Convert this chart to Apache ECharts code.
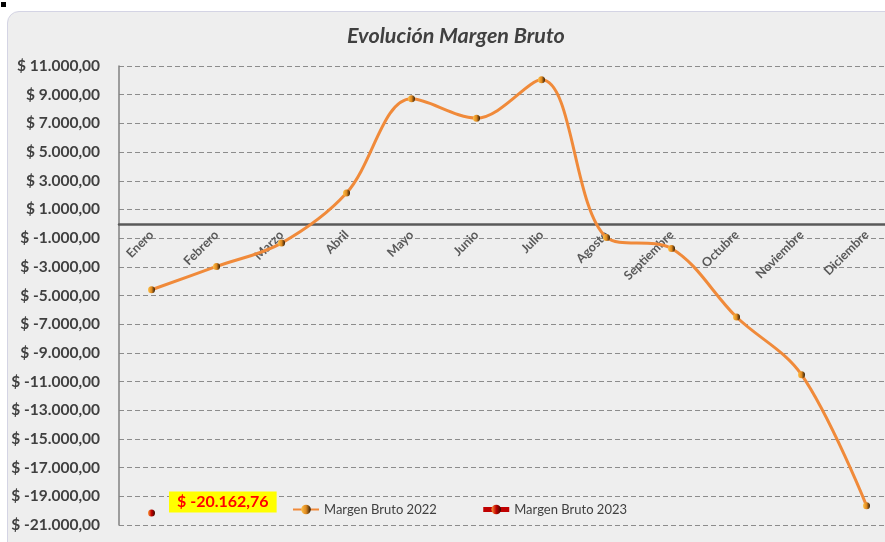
<!DOCTYPE html>
<html>
<head>
<meta charset="utf-8">
<script src="https://cdn.jsdelivr.net/npm/echarts@6/dist/echarts.min.js"></script>
<style>
  html, body { margin: 0; padding: 0; background: #ffffff; overflow: hidden; }
  .frame {
    position: absolute; left: 7px; top: 11px; width: 920px; height: 560px;
    background: #eeeeee; border: 1px solid #d4d4e4; border-radius: 12px;
  }
  .dot { position: absolute; left: 1px; top: 2px; width: 5px; height: 5px; background: #000; }
  #chart { position: absolute; left: 0; top: 0; width: 885px; height: 542px; }
</style>
</head>
<body>
<div class="dot"></div>
<div class="frame"></div>
<div id="chart"></div>
<script>
  // datos
  const meses = ['Enero', 'Febrero', 'Marzo', 'Abril', 'Mayo', 'Junio', 'Julio',
                 'Agosto', 'Septiembre', 'Octubre', 'Noviembre', 'Diciembre'];
  const margen2022 = [-4600, -2975, -1345, 2140, 8710, 7365, 10035,
                      -955, -1720, -6500, -10520, -19650];
  const margen2023 = [-20162.76, null, null, null, null, null, null,
                      null, null, null, null, null];
  const yMin = -21000, yMax = 11000, yStep = 2000;

  function pesos(v) {
    const s = Math.abs(v).toFixed(2).split('.');
    const ent = s[0].replace(/\B(?=(\d{3})+(?!\d))/g, '.');
    return '$ ' + (v < 0 ? '-' : '') + ent + ',' + s[1];
  }

  const fuente = 'Lato, "Open Sans", sans-serif';
  const marcador = {
    type: 'linear', x: 0, y: 0, x2: 1, y2: 0,
    colorStops: [{ offset: 0, color: '#ffc24a' }, { offset: 0.5, color: '#e08a20' }, { offset: 1, color: '#2a1a08' }]
  };
  const marcadorRojo = {
    type: 'linear', x: 0, y: 0, x2: 1, y2: 0,
    colorStops: [{ offset: 0, color: '#ff9a3a' }, { offset: 0.5, color: '#c00000' }, { offset: 1, color: '#3a0a00' }]
  };

  // la linea del eje x va en el cero
  const gridTop = 66, gridBottom = 17, altoPlot = 542 - gridTop - gridBottom;
  const subirEje = altoPlot * (0 - yMin) / (yMax - yMin);

  let chart = echarts.init(document.getElementById('chart'));
  let option = {
    backgroundColor: 'transparent',
    animation: false,
    title: {
      text: 'Evolución Margen Bruto',
      left: 342, top: 20,
      textStyle: { fontFamily: fuente, fontSize: 21.5, fontWeight: 'bold', fontStyle: 'italic', color: '#404040' }
    },
    legend: {
      left: 292, top: 503, padding: 0,
      itemWidth: 26, itemHeight: 12, itemGap: 44,
      textStyle: { fontFamily: fuente, fontSize: 13, color: '#404040' },
      data: [
        { name: 'Margen Bruto 2022' },
        { name: 'Margen Bruto 2023', lineStyle: { color: '#c00000', width: 5 } }
      ]
    },
    grid: { left: 119, right: -14, top: gridTop, bottom: gridBottom, outerBoundsMode: 'none', containLabel: false },
    xAxis: {
      type: 'category',
      data: meses,
      position: 'bottom',
      offset: -subirEje,
      axisLine: { onZero: false, lineStyle: { color: '#595959', width: 2.5 } },
      axisTick: { show: false },
      axisLabel: {
        rotate: 45, margin: 9,
        fontFamily: fuente, fontSize: 12.5, fontWeight: 'bold', color: '#595959'
      }
    },
    yAxis: {
      type: 'value',
      min: yMin, max: yMax, interval: yStep,
      axisLine: { show: true, onZero: false, lineStyle: { color: '#808080', width: 1.5 } },
      axisTick: { show: false },
      splitLine: { lineStyle: { color: '#8c8c8c', type: [5, 3], width: 1 } },
      axisLabel: {
        margin: 19,
        fontFamily: fuente, fontSize: 15.5, fontWeight: 'bold', color: '#404040',
        formatter: v => pesos(v)
      }
    },
    series: [
      {
        name: 'Margen Bruto 2022',
        type: 'line',
        smooth: 0.35,
        data: margen2022,
        symbol: 'circle', symbolSize: 7,
        lineStyle: { color: '#f08a3a', width: 3 },
        itemStyle: { color: marcador, borderWidth: 0 },
        z: 3
      },
      {
        name: 'Margen Bruto 2023',
        type: 'line',
        data: margen2023,
        symbol: 'circle', symbolSize: 7,
        lineStyle: { color: '#c00000', width: 5 },
        itemStyle: { color: marcadorRojo, borderWidth: 0 },
        label: {
          show: true, position: 'right', distance: 14, offset: [0, -11],
          formatter: p => pesos(p.value),
          fontFamily: fuente, fontSize: 16, fontWeight: 'bold', color: '#ff0000',
          backgroundColor: '#ffff00', padding: [3, 8, 2, 8]
        },
        z: 4
      }
    ]
  };
  chart.setOption(option);
</script>
</body>
</html>
